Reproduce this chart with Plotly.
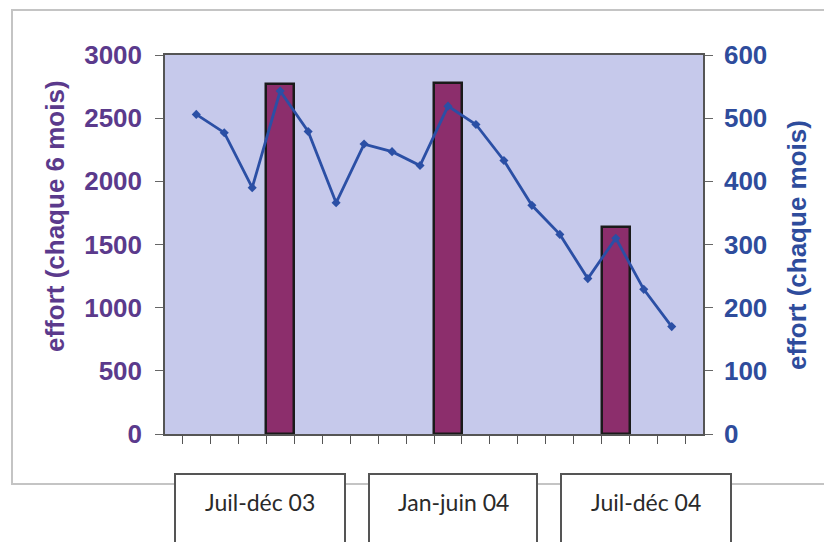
import plotly.graph_objects as go

months = ["juil 03", "août 03", "sept 03", "oct 03", "nov 03", "déc 03",
          "janv 04", "févr 04", "mars 04", "avr 04", "mai 04", "juin 04",
          "juil 04", "août 04", "sept 04", "oct 04", "nov 04", "déc 04"]
effort_month = [506, 477, 390, 543, 479, 366, 459, 447, 425,
                519, 490, 433, 362, 316, 246, 310, 229, 170]

periods = ["Juil-déc 03", "Jan-juin 04", "Juil-déc 04"]
period_month = [months[3], months[9], months[15]]
effort_6m = [2770, 2775, 1635]

left_ticks = [0, 500, 1000, 1500, 2000, 2500, 3000]
right_ticks = [0, 100, 200, 300, 400, 500, 600]

PURPLE = "#5B3A8C"
BLUE = "#2E4C9C"

O = 8  # page body offset
W, H = 832 - O, 542 - O
L, R, T, B = 165, 703, 55, 434  # target page pixels


def px(x):
    return (x - L) / (R - L)


def py(y):
    return (B - y) / (B - T)


fig = go.Figure()
fig.add_trace(go.Bar(x=period_month, y=effort_6m, yaxis="y",
                     marker=dict(color="#8C2E6C", line=dict(color="#1a1a1a", width=2.5)),
                     showlegend=False))
fig.add_trace(go.Scatter(x=months, y=effort_month, yaxis="y2", mode="lines+markers",
                         line=dict(color="#2B4FA5", width=2.8),
                         marker=dict(symbol="diamond", size=7, color="#2B4FA5"),
                         showlegend=False))

shapes = [
    dict(type="rect", xref="paper", yref="paper", x0=px(12), x1=px(860), y0=py(484), y1=py(10),
         line=dict(color="#C4C4C4", width=2), fillcolor="rgba(0,0,0,0)", layer="below"),
]
box_x = [(175, 345), (369, 537), (561, 731)]
annotations = []
for (a, b), lab in zip(box_x, periods):
    shapes.append(dict(type="rect", xref="paper", yref="paper", x0=px(a), x1=px(b),
                       y0=py(560), y1=py(474), line=dict(color="#555555", width=2),
                       fillcolor="white"))
    annotations.append(dict(text=lab, xref="paper", yref="paper", x=px((a + b) / 2), y=py(502),
                            showarrow=False, xanchor="center", yanchor="middle",
                            font=dict(family="Lato", size=23, color="#2a2a2a")))

annotations.append(dict(text="effort (chaque 6 mois)", textangle=-90, xref="paper", yref="paper",
                        x=px(55), y=py(216), showarrow=False, xanchor="center", yanchor="middle",
                        font=dict(family="Liberation Sans", size=26, color=PURPLE, weight="bold")))
annotations.append(dict(text="effort (chaque mois)", textangle=-90, xref="paper", yref="paper",
                        x=px(797), y=py(245), showarrow=False, xanchor="center", yanchor="middle",
                        font=dict(family="Liberation Sans", size=26, color=BLUE, weight="bold")))

fig.update_layout(
    width=W, height=H,
    margin=dict(l=L - O, r=W - (R - O), t=T - O, b=H - (B - O)),
    paper_bgcolor="white", plot_bgcolor="#C6C9EB",
    bargap=0,
    shapes=shapes, annotations=annotations,
    xaxis=dict(type="category", categoryorder="array", categoryarray=months,
               tickson="boundaries", ticks="outside", ticklen=8, tickcolor="#555555",
               showticklabels=False, showline=True, linecolor="#555555", linewidth=1.5,
               mirror=True, showgrid=False, zeroline=False),
    yaxis=dict(range=[0, 3000], tickvals=left_ticks, ticks="outside", ticklen=8,
               tickcolor="#666666", showline=True, linecolor="#555555", linewidth=1.5,
               showgrid=False, zeroline=False, ticklabelstandoff=8,
               tickfont=dict(family="Liberation Sans", size=26, color=PURPLE, weight="bold")),
    yaxis2=dict(range=[0, 600], tickvals=right_ticks, overlaying="y", side="right",
                ticks="outside", ticklen=8, tickcolor="#666666", showline=True,
                linecolor="#555555", linewidth=1.5, showgrid=False, zeroline=False,
                ticklabelstandoff=6,
                tickfont=dict(family="Liberation Sans", size=26, color=BLUE, weight="bold")),
)

fig.write_html("out.html")
